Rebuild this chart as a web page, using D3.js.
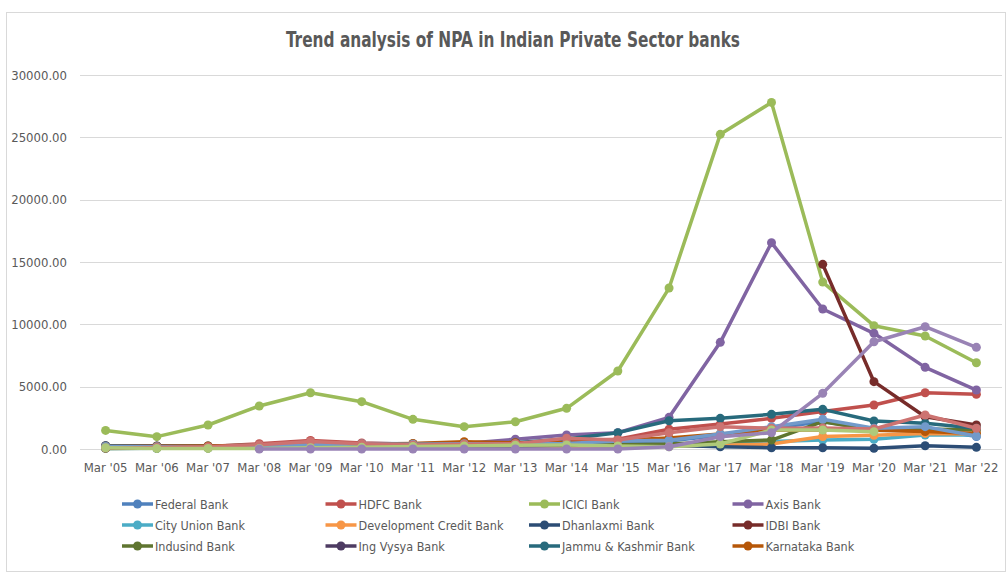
<!DOCTYPE html>
<html>
<head>
<meta charset="utf-8">
<script src="https://cdn.jsdelivr.net/npm/d3@7"></script>
<style>
  body { margin: 0; background: #fff; }
  svg text { font-family: "DejaVu Sans Condensed", "Liberation Sans Narrow", sans-serif; }
</style>
</head>
<body>
<svg id="chart"></svg>
<script>
const years = ["Mar '05", "Mar '06", "Mar '07", "Mar '08", "Mar '09", "Mar '10", "Mar '11", "Mar '12", "Mar '13",
  "Mar '14", "Mar '15", "Mar '16", "Mar '17", "Mar '18", "Mar '19", "Mar '20", "Mar '21", "Mar '22"];

const yTicks = [0, 5000, 10000, 15000, 20000, 25000, 30000];

const federal    = [250, 200, 150, 250, 400, 450, 420, 480, 450, 500, 600, 650, 1100, 1650, 2200, 1550, 1700, 1000];
const hdfc       = [100, 150, 200, 420, 680, 480, 380, 420, 480, 650, 780, 1580, 2000, 2460, 3000, 3530, 4515, 4390];
const icici      = [1490, 990, 1925, 3450, 4515, 3795, 2380, 1790, 2190, 3264, 6256, 12910, 25240, 27800, 13390, 9890, 9060, 6920];
const axis       = [100, 150, 200, 300, 400, 400, 350, 450, 780, 1120, 1300, 2540, 8555, 16550, 11230, 9280, 6550, 4730];
const cityUnion  = [50, 60, 80, 100, 120, 130, 100, 120, 150, 200, 250, 300, 400, 600, 720, 780, 1120, 1120];
const dcb        = [250, 200, 180, 200, 350, 300, 250, 200, 180, 150, 200, 250, 300, 400, 1000, 1100, 1250, 1200];
const dhanlaxmi  = [150, 120, 100, 80, 100, 90, 80, 100, 200, 350, 250, 300, 185, 100, 100, 55, 265, 135];
const idbi       = [null, null, null, null, null, null, null, null, null, null, null, null, null, null, 14810, 5400, 2590, 1925];
const indusind   = [50, 60, 70, 80, 100, 120, 150, 200, 250, 300, 350, 400, 585, 720, 2190, 1520, 1600, 1520];
const ingVysya   = [265, 250, 230, 200, 250, 300, 280, 250, 300, 350, null, null, null, null, null, null, null, null];
const jkBank     = [250, 230, 250, 300, 350, 400, 380, 400, 500, 800, 1310, 2270, 2460, 2780, 3180, 2245, 2060, 1660];
const karnataka  = [200, 220, 250, 300, 350, 380, 450, 585, 500, 500, 700, 880, 1200, 1500, 1550, 1500, 1400, 1250];
const series13   = [200, 180, 120, 200, 350, 400, 380, 420, 400, 450, 650, 700, 1200, 1790, 2380, 1660, 1790, 1040];
const series14   = [80, 120, 180, 350, 600, 420, 330, 380, 420, 860, 720, 1310, 1790, 1660, 1680, 1600, 2730, 1660];
const series15   = [100, 50, 50, 50, 100, 150, 200, 250, 300, 320, 250, 185, 400, 1520, 1520, 1390, null, null];
const series16   = [null, null, null, 0, 0, 0, 0, 0, 0, 0, 0, 185, 990, 1310, 4465, 8600, 9810, 8155];

const bankNames  = ["Federal Bank", "HDFC Bank", "ICICI Bank", "Axis Bank", "City Union Bank", "Development Credit Bank",
  "Dhanlaxmi Bank", "IDBI Bank", "Indusind Bank", "Ing Vysya Bank", "Jammu & Kashmir Bank", "Karnataka Bank",
  "Series13", "Series14", "Series15", "Series16"];
const bankValues = [federal, hdfc, icici, axis, cityUnion, dcb, dhanlaxmi, idbi, indusind, ingVysya, jkBank, karnataka,
  series13, series14, series15, series16];
const colors = ["#4F81BD", "#C0504D", "#9BBB59", "#8064A2", "#4BACC6", "#F79646", "#2C4D75", "#772C2A",
  "#5F7530", "#4D3B62", "#276A7C", "#B65708", "#729ACA", "#CD7371", "#AFC97A", "#9983B5"];
const legendCount = 12;

const width = 1007, height = 572;
const margin = { top: 75, right: 5, bottom: 123, left: 80 };

const svg = d3.select('#chart')
  .attr('width', width)
  .attr('height', height);

// chart frame
svg.append('rect')
  .attr('x', 6.5).attr('y', 12.5)
  .attr('width', width - 8).attr('height', height - 13)
  .attr('fill', '#fff')
  .attr('stroke', '#d9d9d9');

svg.append('text')
  .attr('x', 513).attr('y', 47)
  .attr('text-anchor', 'middle')
  .attr('font-size', '21px')
  .attr('font-weight', 'bold')
  .attr('fill', '#595959')
  .attr('textLength', 454)
  .attr('lengthAdjust', 'spacingAndGlyphs')
  .text('Trend analysis of NPA in Indian Private Sector banks');

const x = d3.scaleBand()
  .domain(years)
  .range([margin.left, width - margin.right]);

const y = d3.scaleLinear()
  .domain([0, 30000])
  .range([height - margin.bottom, margin.top]);

// gridlines
svg.append('g')
  .selectAll('line')
  .data(yTicks)
  .enter().append('line')
  .attr('x1', margin.left)
  .attr('x2', width - margin.right)
  .attr('y1', d => Math.round(y(d)) + 0.5)
  .attr('y2', d => Math.round(y(d)) + 0.5)
  .attr('stroke', '#d9d9d9')
  .attr('stroke-width', 1);

// y axis labels
const yAxis = svg.append('g')
  .attr('transform', `translate(${margin.left},0)`)
  .call(d3.axisLeft(y).tickValues(yTicks).tickFormat(d3.format('.2f')).tickSize(0).tickPadding(13));
yAxis.select('.domain').remove();
yAxis.selectAll('text')
  .attr('font-size', '13px')
  .attr('fill', '#595959')
  .style('font-family', '"DejaVu Sans Condensed", sans-serif');

// x axis labels
const xAxis = svg.append('g')
  .attr('transform', `translate(0,${height - margin.bottom})`)
  .call(d3.axisBottom(x).tickSize(0).tickPadding(14));
xAxis.select('.domain').remove();
xAxis.selectAll('text')
  .attr('font-size', '13px')
  .attr('fill', '#595959')
  .style('font-family', '"DejaVu Sans Condensed", sans-serif');

const line = d3.line()
  .defined(d => d != null)
  .x((d, i) => x(years[i]) + x.bandwidth() / 2)
  .y(d => y(d));

const series = bankValues.map((vals, k) => ({ name: bankNames[k], color: colors[k], values: vals }));

const g = svg.append('g');
series.forEach(s => {
  g.append('path')
    .datum(s.values)
    .attr('d', line)
    .attr('fill', 'none')
    .attr('stroke', s.color)
    .attr('stroke-width', 3.5)
    .attr('stroke-linejoin', 'round');
  g.selectAll(null)
    .data(s.values.map((v, i) => ({ v, i })).filter(d => d.v != null))
    .enter().append('circle')
    .attr('cx', d => x(years[d.i]) + x.bandwidth() / 2)
    .attr('cy', d => y(d.v))
    .attr('r', 4.5)
    .attr('fill', s.color);
});

// legend
const legend = svg.append('g');
series.slice(0, legendCount).forEach((s, k) => {
  const lx = 122 + (k % 4) * 203.5;
  const ly = 504 + Math.floor(k / 4) * 21;
  const item = legend.append('g').attr('transform', `translate(${lx},${ly})`);
  item.append('line')
    .attr('x1', 0).attr('x2', 31)
    .attr('stroke', s.color).attr('stroke-width', 3.5);
  item.append('circle')
    .attr('cx', 15.5).attr('r', 4.5)
    .attr('fill', s.color);
  item.append('text')
    .attr('x', 33).attr('y', 5)
    .attr('font-size', '12.5px')
    .attr('fill', '#595959')
    .text(s.name);
});
</script>
</body>
</html>
